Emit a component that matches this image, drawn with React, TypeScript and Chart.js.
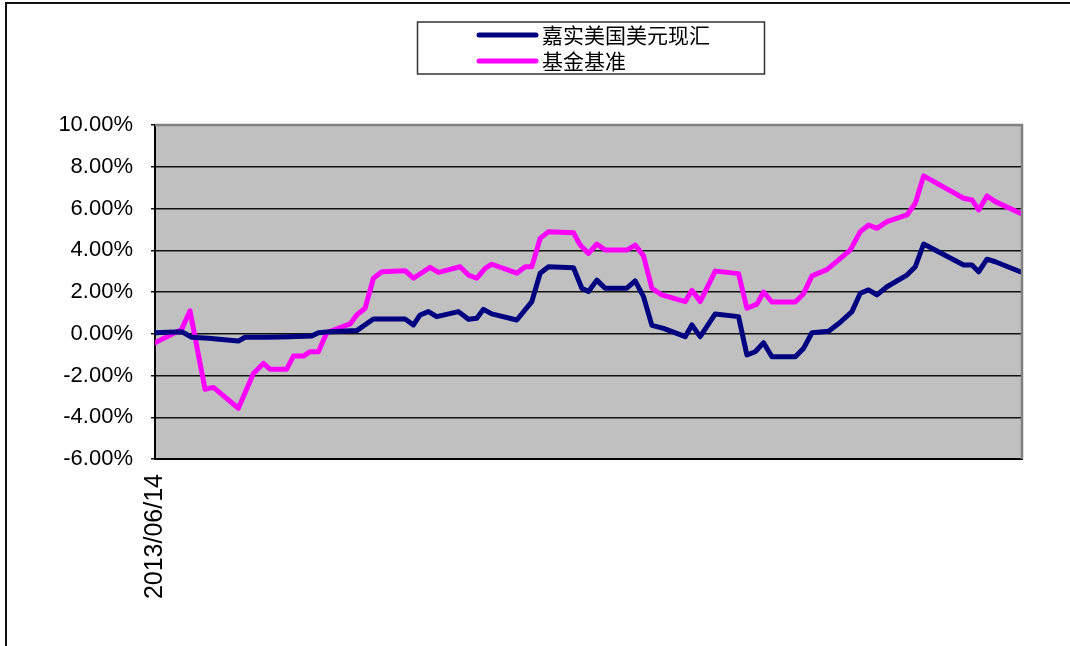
import React, { useEffect, useRef } from 'react';
import { Chart, registerables } from 'chart.js';

Chart.register(...registerables);

// ---- data ----
const xTickLabels = ['2013/06/14'];
const seriesNames = ['嘉实美国美元现汇', '基金基准'];
const seriesColors = ['#000080', '#FF00FF'];
const yTickValues = [-6, -4, -2, 0, 2, 4, 6, 8, 10];
const dayCount = 520;

const fundDays = [0, 16, 22, 32, 50, 54, 67, 81, 94, 98, 105, 121, 131, 150, 155, 159, 164, 169, 182, 188, 193, 197, 202, 217, 226, 231, 236, 251, 256, 260, 265, 270, 283, 288, 293, 298, 305, 318, 322, 327, 336, 350, 355, 360, 365, 370, 384, 389, 394, 404, 411, 418, 423, 428, 433, 439, 451, 456, 461, 485, 490, 494, 499, 504, 519];
const fundValues = [0.05, 0.10, -0.17, -0.22, -0.35, -0.17, -0.17, -0.14, -0.11, 0.05, 0.10, 0.15, 0.71, 0.71, 0.42, 0.90, 1.06, 0.82, 1.06, 0.69, 0.74, 1.17, 0.95, 0.66, 1.54, 2.90, 3.21, 3.16, 2.18, 2.02, 2.57, 2.18, 2.18, 2.53, 1.78, 0.40, 0.26, -0.14, 0.42, -0.14, 0.95, 0.82, -1.02, -0.86, -0.43, -1.10, -1.10, -0.70, 0.05, 0.12, 0.55, 1.06, 1.94, 2.10, 1.86, 2.25, 2.81, 3.21, 4.30, 3.29, 3.29, 2.97, 3.57, 3.45, 2.97];

const benchDays = [0, 16, 21, 30, 35, 50, 59, 65, 69, 79, 83, 89, 93, 98, 103, 117, 121, 126, 131, 136, 150, 155, 165, 170, 183, 188, 193, 198, 202, 217, 222, 226, 231, 236, 251, 255, 260, 265, 270, 283, 288, 293, 298, 304, 318, 322, 327, 336, 350, 355, 361, 365, 370, 384, 389, 394, 403, 417, 423, 428, 433, 439, 451, 456, 461, 485, 490, 494, 499, 504, 519];
const benchValues = [-0.43, 0.21, 1.10, -2.66, -2.57, -3.57, -1.90, -1.42, -1.70, -1.70, -1.07, -1.07, -0.86, -0.86, 0.05, 0.47, 0.90, 1.22, 2.66, 2.97, 3.02, 2.66, 3.18, 2.94, 3.21, 2.81, 2.66, 3.13, 3.33, 2.90, 3.21, 3.21, 4.57, 4.89, 4.84, 4.25, 3.85, 4.30, 4.01, 4.01, 4.25, 3.73, 2.18, 1.86, 1.54, 2.08, 1.54, 3.00, 2.88, 1.22, 1.42, 2.00, 1.52, 1.52, 1.92, 2.77, 3.07, 4.01, 4.89, 5.21, 5.05, 5.37, 5.69, 6.25, 7.56, 6.49, 6.41, 5.93, 6.60, 6.33, 5.77];

const FONT = '"Liberation Sans", Arial, sans-serif';

const plotDecor = {
  id: 'plotDecor',
  beforeDraw(chart: any) {
    const { ctx, chartArea: a } = chart;
    ctx.save();
    ctx.fillStyle = '#C0C0C0';
    ctx.fillRect(a.left, a.top, a.right - a.left, a.bottom - a.top);
    ctx.restore();
  },
  afterDatasetsDraw(chart: any) {
    const { ctx, chartArea: a } = chart;
    ctx.save();
    ctx.strokeStyle = '#808080';
    ctx.lineWidth = 2.5;
    ctx.beginPath();
    ctx.moveTo(a.left, a.top);
    ctx.lineTo(a.right, a.top);
    ctx.lineTo(a.right, a.bottom);
    ctx.stroke();
    ctx.restore();
  },
  afterDraw(chart: any) {
    const { ctx } = chart;
    ctx.save();
    // legend box
    ctx.strokeStyle = '#333';
    ctx.lineWidth = 1.5;
    ctx.strokeRect(417.5, 22, 347, 52);
    chart.data.datasets.forEach((ds: any, i: number) => {
      const y = 35 + i * 26;
      ctx.strokeStyle = ds.borderColor;
      ctx.lineWidth = 5;
      ctx.lineCap = 'round';
      ctx.beginPath();
      ctx.moveTo(479, y);
      ctx.lineTo(536, y);
      ctx.stroke();
      ctx.fillStyle = '#000';
      ctx.font = '21px "Noto Sans CJK SC", sans-serif';
      ctx.textBaseline = 'middle';
      ctx.textAlign = 'left';
      ctx.fillText(ds.label, 542, y);
    });
    ctx.restore();
  },
};

export default function App() {
  const ref = useRef<HTMLCanvasElement | null>(null);

  useEffect(() => {
    if (!ref.current) return;
    const chart = new Chart(ref.current, {
      type: 'line',
      data: {
        datasets: [
          {
            label: seriesNames[0],
            data: fundDays.map((d, i) => ({ x: d, y: fundValues[i] })),
            borderColor: seriesColors[0],
            backgroundColor: seriesColors[0],
            borderWidth: 5,
            pointRadius: 0,
            tension: 0,
            borderJoinStyle: 'round',
            borderCapStyle: 'round',
          },
          {
            label: seriesNames[1],
            data: benchDays.map((d, i) => ({ x: d, y: benchValues[i] })),
            borderColor: seriesColors[1],
            backgroundColor: seriesColors[1],
            borderWidth: 5,
            pointRadius: 0,
            tension: 0,
            borderJoinStyle: 'round',
            borderCapStyle: 'round',
          },
        ],
      },
      options: {
        animation: false,
        responsive: false,
        devicePixelRatio: 1,
        layout: { padding: { top: 125, right: 48, bottom: 0, left: 0 } },
        plugins: {
          legend: { display: false },
          tooltip: { enabled: false },
        },
        scales: {
          x: {
            type: 'linear',
            min: 0,
            max: dayCount,
            grid: { display: false, drawTicks: false },
            border: { display: true, color: '#000', width: 2 },
            afterBuildTicks: (scale: any) => {
              scale.ticks = xTickLabels.map((_, i) => ({ value: i }));
            },
            afterFit: (scale: any) => {
              scale.height = 646 - 459;
            },
            ticks: {
              autoSkip: false,
              minRotation: 90,
              maxRotation: 90,
              padding: 15,
              color: '#000',
              font: { family: FONT, size: 25 },
              callback: (v: any) => xTickLabels[v] ?? '',
            },
          },
          y: {
            min: -6,
            max: 10,
            afterBuildTicks: (scale: any) => {
              scale.ticks = yTickValues.map((v) => ({ value: v }));
            },
            afterFit: (scale: any) => {
              scale.width = 155;
            },
            grid: {
              color: (c: any) => (c.tick && c.tick.value === 10 ? 'rgba(0,0,0,0)' : '#111'),
              lineWidth: 1.5,
              drawTicks: true,
              tickLength: 4,
              tickColor: '#111',
            },
            border: { display: true, color: '#000', width: 2 },
            ticks: {
              padding: 18,
              color: '#000',
              font: { family: FONT, size: 22 },
              callback: (v: any) => Number(v).toFixed(2) + '%',
            },
          },
        },
      },
      plugins: [plotDecor],
    } as any);
    return () => chart.destroy();
  }, []);

  return (
    <div style={{ position: 'absolute', left: 0, top: 0, width: 1070, height: 646, background: '#fff', overflow: 'hidden' }}>
      <div style={{ position: 'absolute', left: 5, top: 2, width: 1100, height: 700, borderTop: '2px solid #111', borderLeft: '2px solid #111' }} />
      <canvas ref={ref} width={1070} height={646} style={{ position: 'absolute', left: 0, top: 0 }} />
    </div>
  );
}
